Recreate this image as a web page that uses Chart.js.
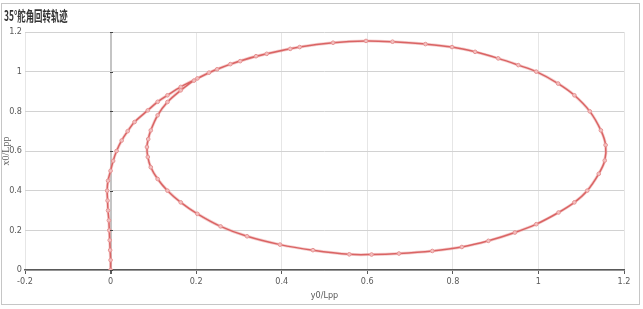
<!DOCTYPE html>
<html>
<head>
<meta charset="utf-8">
<script src="https://cdn.jsdelivr.net/npm/chart.js@4/dist/chart.umd.min.js"></script>
<style>
  html, body { margin: 0; padding: 0; background: #fff; }
  #wrap { position: relative; width: 643px; height: 309px; }
</style>
</head>
<body>
<div id="wrap"><canvas id="chart" width="643" height="309"></canvas></div>
<script>
const chartTitle = "35°舵角回转轨迹";
const xAxisTitle = "y0/Lpp";
const yAxisTitle = "x0/Lpp";

// trajectory (y0/Lpp, x0/Lpp)
const trackX = [
  0, 0.000, -0.001, -0.002, -0.003, -0.004, -0.006, -0.007, -0.008, -0.006,
  0.000, 0.006, 0.014, 0.026, 0.040, 0.056, 0.087, 0.110, 0.133, 0.164,
  0.203, 0.249, 0.303, 0.365, 0.442, 0.520, 0.597, 0.659, 0.736, 0.798,
  0.852, 0.906, 0.953, 0.995, 1.046, 1.084, 1.120, 1.146, 1.157, 1.155,
  1.141, 1.114, 1.084, 1.047, 0.995, 0.945, 0.883, 0.821, 0.752, 0.674,
  0.610, 0.558, 0.473, 0.396, 0.319, 0.257, 0.203, 0.164, 0.133, 0.110,
  0.094, 0.087, 0.085, 0.088, 0.094, 0.110, 0.133, 0.164, 0.195, 0.230,
  0.280, 0.340, 0.420
];
const trackY = [
  0, 0.05, 0.10, 0.15, 0.20, 0.25, 0.30, 0.35, 0.40, 0.45,
  0.50, 0.55, 0.60, 0.653, 0.70, 0.746, 0.805, 0.848, 0.881, 0.923,
  0.966, 1.012, 1.053, 1.090, 1.124, 1.146, 1.155, 1.151, 1.139, 1.124,
  1.100, 1.067, 1.033, 1.000, 0.940, 0.881, 0.800, 0.704, 0.630, 0.552,
  0.485, 0.400, 0.341, 0.290, 0.231, 0.189, 0.147, 0.116, 0.096, 0.083,
  0.078, 0.079, 0.100, 0.128, 0.170, 0.220, 0.283, 0.341, 0.400, 0.459,
  0.518, 0.570, 0.620, 0.660, 0.704, 0.780, 0.847, 0.906, 0.955, 0.995,
  1.038, 1.078, 1.115
];

const xTickLabels = ["-0.2", "0", "0.2", "0.4", "0.6", "0.8", "1", "1.2"];
const yTickLabels = ["0", "0.2", "0.4", "0.6", "0.8", "1", "1.2"];

const points = trackX.map((x, i) => ({ x: x, y: trackY[i] }));

const tickFont = { family: "'Liberation Sans Narrow', 'DejaVu Sans Condensed', sans-serif", size: 9 };

// frame, title and the little tick marks on the x=0 line
const decor = {
  id: "decor",
  beforeDraw(chart) {
    const c = chart.ctx;
    c.save();
    c.fillStyle = "#fff";
    c.fillRect(0, 0, chart.width, chart.height);
    c.strokeStyle = "#c6c6c6";
    c.lineWidth = 1;
    c.strokeRect(1.5, 3.5, 638, 301);
    c.restore();
  },
  afterDraw(chart) {
    const c = chart.ctx;
    const xs = chart.scales.x, ys = chart.scales.y;
    c.save();
    c.fillStyle = "#333";
    c.font = "bold 14px 'Noto Sans CJK SC'";
    c.textBaseline = "alphabetic";
    c.translate(4, 21);
    c.scale(0.6, 1);
    c.fillText(chartTitle, 0, 0);
    c.restore();
    c.save();
    const x0 = Math.round(xs.getPixelForValue(0));
    c.strokeStyle = "#444";
    c.lineWidth = 1;
    ys.ticks.forEach(t => {
      const py = Math.round(ys.getPixelForValue(t.value)) + 0.5;
      c.beginPath();
      c.moveTo(x0 - 1, py);
      c.lineTo(x0 + 2, py);
      c.stroke();
    });
    c.restore();
  }
};

new Chart(document.getElementById("chart"), {
  type: "scatter",
  data: {
    datasets: [
      {
        data: points,
        showLine: true,
        borderColor: "rgba(236,160,160,0.5)",
        borderWidth: 3,
        pointRadius: 0,
        tension: 0.35,
        fill: false
      },
      {
        data: points,
        showLine: true,
        borderColor: "rgb(200,40,40)",
        borderWidth: 1.5,
        pointRadius: 1.8,
        pointBorderWidth: 1,
        pointBorderColor: "rgb(228,140,140)",
        pointBackgroundColor: "rgba(255,240,240,0.9)",
        tension: 0.35,
        fill: false
      }
    ]
  },
  options: {
    responsive: false,
    animation: false,
    layout: { padding: { top: 32, right: 19, left: 0, bottom: 0 } },
    plugins: {
      legend: { display: false },
      tooltip: { enabled: false }
    },
    scales: {
      x: {
        type: "linear",
        min: -0.2,
        max: 1.2,
        ticks: {
          stepSize: 0.2,
          color: "#595959",
          font: tickFont,
          padding: 2,
          maxRotation: 0,
          callback: (v, i) => xTickLabels[i]
        },
        grid: {
          color: ctx => (ctx.tick && Math.abs(ctx.tick.value) < 1e-9) ? "#c4c4c4" : "#e6e6e6",
          lineWidth: ctx => (ctx.tick && Math.abs(ctx.tick.value) < 1e-9) ? 2 : 1,
          tickLength: 4,
          tickColor: "#595959"
        },
        border: { color: "#595959", width: 1.5 },
        title: {
          display: true,
          text: xAxisTitle,
          color: "#595959",
          font: tickFont,
          padding: { top: 2, bottom: 8 }
        },
        afterFit: s => { s.height = 39; }
      },
      y: {
        type: "linear",
        min: 0,
        max: 1.2,
        ticks: {
          stepSize: 0.2,
          color: "#595959",
          font: tickFont,
          padding: 3,
          callback: (v, i) => yTickLabels[i]
        },
        grid: {
          color: "#d2d2d2",
          lineWidth: 1,
          drawTicks: false
        },
        border: { display: false },
        title: {
          display: true,
          text: yAxisTitle,
          color: "#595959",
          font: { family: "'Liberation Serif', serif", size: 10 },
          padding: { top: 0, bottom: 0, left: 3 }
        },
        afterFit: s => { s.width = 25; }
      }
    }
  },
  plugins: [decor]
});
</script>
</body>
</html>
